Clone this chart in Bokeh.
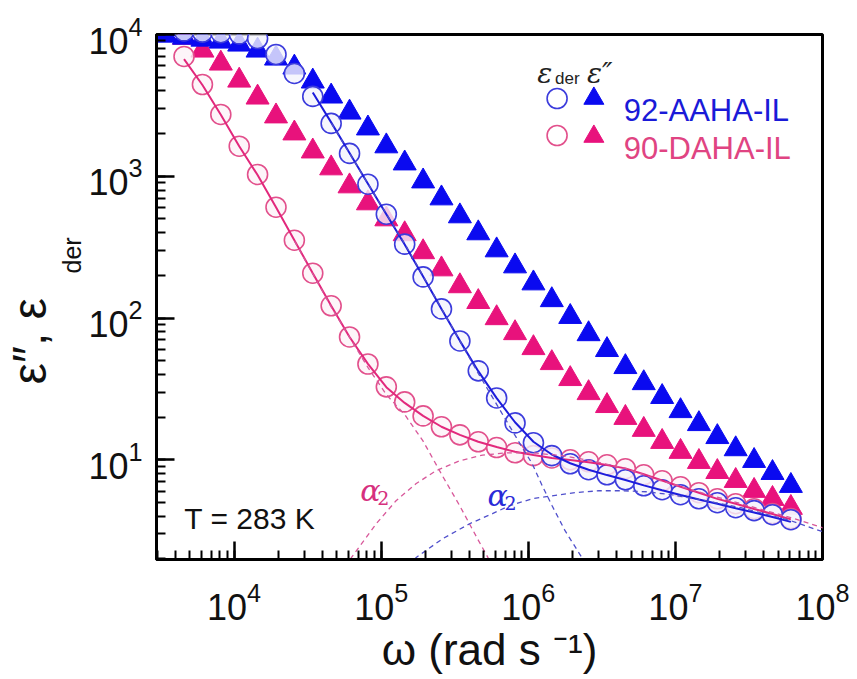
from bokeh.plotting import figure
from bokeh.models import Range1d, LinearScale, Label, Title
from bokeh.embed import file_html
from bokeh.resources import INLINE

# ---------------- data ----------------
omega = [4570, 6095, 8128, 10840, 14450, 19280, 25700, 34280, 45710, 60950,
         81280, 108400, 144500, 192800, 257000, 342800, 457100, 609500, 812800,
         1084000, 1445000, 1928000, 2570000, 3428000, 4571000, 6095000, 8128000,
         10840000, 14450000, 19280000, 25700000, 34280000, 45710000, 60950000]
omega_tri_blue = [3428] + omega

# 92-AAHA-IL
eder_aaha = [10600, 10400, 10300, 10100, 9370, 7230, 5310, 3660, 2360, 1450, 879,
             540, 332, 195, 116, 68.9, 42.4, 27.3, 18.2, 13.2, 10.7, 9.37, 8.51,
             7.84, 7.23, 6.56, 6.15, 5.67, 5.31, 4.98, 4.59, 4.38, 4.10, 3.78]
eps2_aaha = [9840, 9520, 9220, 8930, 8510, 7720, 6780, 5860, 4670, 3660, 2820,
             2180, 1630, 1235, 922, 700, 523, 397, 301, 232, 176, 134, 102, 77.1,
             59.6, 45.2, 34.8, 27.8, 22.1, 17.9, 14.5, 11.9, 9.84, 8.09, 6.56]
fit_aaha_w = omega[7:]
fit_aaha = [3900, 2400, 1460, 885, 540, 330, 196, 116, 69, 42.2, 27.2, 18.4, 13.4,
            10.9, 9.45, 8.5, 7.8, 7.2, 6.6, 6.1, 5.65, 5.25, 4.9, 4.55, 4.25, 3.95, 3.65]
a1_aaha_w = [45900, 81600, 145200, 258400, 459000, 618000, 745000, 910000, 1064000,
             1244000, 1452000, 1778000, 2317000, 2700000]
a1_aaha = [2360, 879, 332, 116, 40.4, 24.0, 17.3, 12.2, 9.37, 6.56, 4.74, 3.16, 2.04, 1.52]
a2_aaha_w = [152100, 172200, 262400, 399000, 571000, 745000, 1064000, 1452000, 2080000,
             3020000, 4320000, 6370000, 9400000, 15000000, 27900000, 60800000, 104700000]
a2_aaha = [1.52, 2.04, 2.78, 3.54, 4.17, 4.74, 5.31, 5.57, 5.86, 6.05, 6.05, 5.95,
           5.67, 5.22, 4.59, 3.72, 3.06]

# 90-DAHA-IL
eder_daha = [7000, 4440, 2730, 1630, 1030, 605, 354, 207, 122, 73.5, 47.4, 32.7,
             25.6, 20.4, 17.1, 15.0, 13.4, 12.2, 11.2, 10.7, 10.3, 10.0, 9.68, 9.22,
             8.65, 7.84, 7.11, 6.45, 5.86, 5.31, 4.90, 4.52, 4.17, 3.85]
eps2_daha = [9520, 7720, 6250, 4740, 3600, 2650, 2010, 1500, 1140, 851, 646, 498,
             391, 292, 221, 168, 130, 100, 78.4, 61.5, 48.2, 37.2, 29.6, 24.0, 19.8,
             16.3, 13.4, 11.4, 9.68, 8.22, 7.11, 6.05, 5.31, 4.59]
fit_daha = [6700, 4400, 2720, 1630, 1020, 605, 354, 207, 122, 73.5, 47.5, 32.5, 25.2,
            20.4, 17.1, 15.0, 13.4, 12.3, 11.4, 10.8, 10.3, 9.95, 9.6, 9.2, 8.7, 7.9,
            7.15, 6.45, 5.86, 5.3, 4.9, 4.5, 4.15, 3.8]
a1_daha_w = [25800, 45900, 81600, 108900, 145200, 192300, 258400, 342000, 459000, 571000]
a1_daha = [348, 119, 44.5, 28.7, 20.7, 13.6, 7.84, 4.74, 2.69, 1.79]
a2_daha_w = [55300, 62700, 92500, 126200, 172200, 235300, 342000, 489000, 721000,
             1064000, 1698000, 2700000, 4670000, 8040000, 15000000, 27900000,
             60800000, 104700000]
a2_daha = [1.52, 2.04, 3.54, 5.14, 6.77, 8.37, 9.84, 10.8, 11.2, 11.2, 10.7, 9.84,
           8.65, 7.11, 5.86, 4.90, 3.91, 3.27]

series_names = ["92-AAHA-IL", "90-DAHA-IL"]
x_range_vals = (2.97e3, 1.0e8)
y_range_vals = (1.98, 1.0e4)

# ---------------- styles ----------------
BLUE_TRI = "#0a0af0"
BLUE_CIR = "#3c3cdc"
BLUE_LINE = "#1c1cdc"
BLUE_DASH = "#5050cc"
PINK_TRI = "#e8127c"
PINK_CIR = "#e2508c"
PINK_LINE = "#e2287c"
PINK_DASH = "#d8589a"
SANS = "Liberation Sans"
SERIF = "DejaVu Serif"
TXT = "#111111"

p = figure(width=857, height=679, x_axis_type="log", y_axis_type="log",
           x_range=Range1d(*x_range_vals), y_range=Range1d(*y_range_vals),
           output_backend="svg", toolbar_location=None,
           min_border_left=152, min_border_right=35, min_border_top=34,
           min_border_bottom=120, background_fill_color="white",
           border_fill_color="white")
p.xgrid.visible = False
p.ygrid.visible = False
p.outline_line_color = "black"
p.outline_line_width = 3
p.outline_line_alpha = 1.0

# overlay coordinate system in frame pixels (for legend / annotations)
p.extra_x_ranges = {"px": Range1d(0, 670)}
p.extra_y_ranges = {"px": Range1d(525, 0)}
p.extra_x_scales = {"px": LinearScale()}
p.extra_y_scales = {"px": LinearScale()}

for ax in (p.xaxis[0], p.yaxis[0]):
    ax.axis_line_width = 3
    ax.axis_line_color = "black"
    ax.major_tick_in = 18
    ax.major_tick_out = 0
    ax.minor_tick_in = 9
    ax.minor_tick_out = 0
    ax.major_tick_line_width = 2.5
    ax.minor_tick_line_width = 2
    ax.major_tick_line_color = "black"
    ax.minor_tick_line_color = "black"
    ax.major_label_text_font = SANS
    ax.major_label_text_font_size = "36px"
    ax.major_label_text_color = TXT
p.xaxis[0].major_label_standoff = 22
p.yaxis[0].major_label_standoff = 14
p.xaxis[0].axis_label = "ω (rad s ⁻¹)"
p.xaxis[0].axis_label_text_font = SANS
p.xaxis[0].axis_label_text_font_size = "44px"
p.xaxis[0].axis_label_text_font_style = "normal"
p.xaxis[0].axis_label_text_color = TXT
p.xaxis[0].axis_label_standoff = 2

# y-axis title as two vertical titles (main text + subscript), outside the frame
p.add_layout(Title(text="der", align="left", offset=286, standoff=0,
                   text_font=SANS, text_font_size="25px", text_font_style="normal",
                   text_color=TXT), "left")
p.add_layout(Title(text="ε″, ε", align="left", offset=175, standoff=0,
                   text_font=SANS, text_font_size="48px", text_font_style="normal",
                   text_color=TXT), "left")

# ---------------- marks ----------------
p.scatter(omega, eps2_daha, marker="triangle", size=23, fill_color=PINK_TRI,
          line_color=PINK_TRI, line_width=1)
p.scatter(omega_tri_blue, eps2_aaha, marker="triangle", size=23, fill_color=BLUE_TRI,
          line_color=BLUE_TRI, line_width=1)
p.scatter(omega, eder_daha, marker="circle", size=20, fill_color="#fdf3f8",
          fill_alpha=0.8, line_color=PINK_CIR, line_width=1.6)
p.scatter(omega, eder_aaha, marker="circle", size=20, fill_color="#f4f4fd",
          fill_alpha=0.8, line_color=BLUE_CIR, line_width=1.6)

p.line(omega, fit_daha, line_color=PINK_LINE, line_width=2)
p.line(fit_aaha_w, fit_aaha, line_color=BLUE_LINE, line_width=2)
p.line(a1_daha_w, a1_daha, line_color=PINK_DASH, line_width=1.3, line_dash="5 4")
p.line(a2_daha_w, a2_daha, line_color=PINK_DASH, line_width=1.3, line_dash="5 4")
p.line(a1_aaha_w, a1_aaha, line_color=BLUE_DASH, line_width=1.3, line_dash="5 4")
p.line(a2_aaha_w, a2_aaha, line_color=BLUE_DASH, line_width=1.3, line_dash="5 4")

# ---------------- legend (drawn manually) ----------------
p.scatter([403], [64], marker="circle", size=20, fill_color="white",
          line_color=BLUE_CIR, line_width=1.6, x_range_name="px", y_range_name="px")
p.scatter([440], [64], marker="triangle", size=20, fill_color=BLUE_TRI,
          line_color=BLUE_TRI, x_range_name="px", y_range_name="px")
p.scatter([403], [101], marker="circle", size=20, fill_color="white",
          line_color=PINK_CIR, line_width=1.6, x_range_name="px", y_range_name="px")
p.scatter([440], [102], marker="triangle", size=20, fill_color=PINK_TRI,
          line_color=PINK_TRI, x_range_name="px", y_range_name="px")


def lab(text, x, y, size, color=TXT, font=SANS, style="normal"):
    p.add_layout(Label(x=x, y=y, text=text, x_range_name="px", y_range_name="px",
                       text_font=font, text_font_size=size, text_color=color,
                       text_font_style=style, text_align="left",
                       text_baseline="alphabetic"))


lab(series_names[0], 470, 76, "31px", color="#1a1ad8")
lab(series_names[1], 470, 114, "31px", color="#e04482")
lab("ε", 383, 39, "28px", font=SERIF, style="italic", color="#222222")
lab("der", 401, 44, "17px", color="#222222")
lab("ε″", 433, 39, "28px", font=SERIF, style="italic", color="#222222")

lab("T = 283 K", 28, 484, "30px")
lab("α", 205, 456, "30px", font=SERIF, style="italic", color="#d6307e")
lab("2", 222, 463, "19px", font=SERIF, color="#d6307e")
lab("α", 333, 461, "30px", font=SERIF, style="italic", color="#2a2ad8")
lab("2", 350, 468, "19px", font=SERIF, color="#2a2ad8")

open("out.html", "w").write(file_html(p, INLINE))
